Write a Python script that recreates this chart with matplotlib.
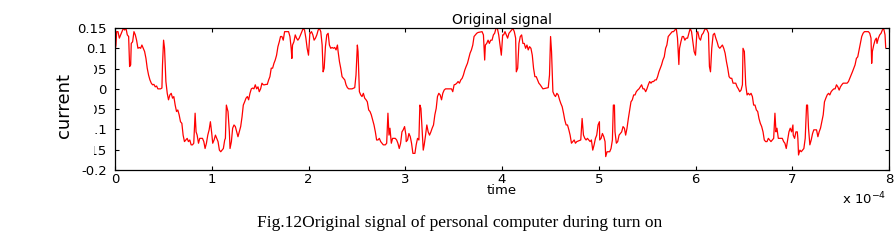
import numpy as np
import matplotlib
matplotlib.use('Agg')
import matplotlib.pyplot as plt
from matplotlib.patches import Rectangle

# time in units of 1e-4 s, current, one list pair per cycle
t_c1 = [0.000, 0.010, 0.017, 0.031, 0.045, 0.058, 0.072, 0.086, 0.100, 0.113, 0.127, 0.141, 0.151, 0.162,
        0.168, 0.182, 0.196, 0.210, 0.223, 0.237, 0.251, 0.265, 0.278, 0.292, 0.306, 0.320, 0.333, 0.347,
        0.361, 0.375, 0.388, 0.402, 0.416, 0.430, 0.443, 0.471, 0.485, 0.491, 0.502, 0.512, 0.519, 0.526,
        0.540, 0.553, 0.567, 0.581, 0.595, 0.608, 0.622, 0.636, 0.649, 0.663, 0.677, 0.691, 0.704, 0.718,
        0.732, 0.746, 0.759, 0.773, 0.787, 0.801, 0.814, 0.828, 0.838, 0.849, 0.863, 0.876, 0.890, 0.904,
        0.918, 0.931, 0.945, 0.959, 0.973, 0.986, 1.000,
        1.010, 1.024, 1.038, 1.052, 1.065, 1.079, 1.093, 1.107, 1.120, 1.134, 1.141, 1.151, 1.168, 1.182,
        1.189, 1.203, 1.216, 1.230, 1.244, 1.258, 1.271, 1.285, 1.299, 1.313, 1.326, 1.340, 1.354, 1.368,
        1.381, 1.395, 1.409, 1.423, 1.436, 1.450, 1.464, 1.478, 1.491, 1.505, 1.519, 1.533, 1.546, 1.560,
        1.574, 1.588, 1.601, 1.615, 1.629, 1.643, 1.656, 1.670, 1.684, 1.698, 1.711, 1.725, 1.739, 1.753,
        1.766, 1.794, 1.808, 1.821, 1.828, 1.835, 1.849, 1.863, 1.876, 1.890, 1.904, 1.918, 1.931, 1.945,
        1.959, 1.973, 1.986, 2.000, 2.014]
i_c1 = [0.092, 0.108, 0.141, 0.141, 0.125, 0.133, 0.141, 0.149, 0.145, 0.150, 0.133, 0.129, 0.055, 0.059,
        0.112, 0.116, 0.141, 0.133, 0.120, 0.100, 0.102, 0.100, 0.108, 0.100, 0.092, 0.075, 0.051, 0.034,
        0.022, 0.014, 0.010, 0.011, 0.005, 0.007, 0.000, 0.000, 0.002, 0.059, 0.120, 0.100, 0.059, 0.018,
        -0.011, -0.027, -0.015, -0.011, -0.023, -0.019, -0.040, -0.056, -0.052, -0.064, -0.081, -0.085, -0.114, -0.130,
        -0.126, -0.122, -0.130, -0.126, -0.138, -0.138, -0.134, -0.060, -0.106, -0.114, -0.134, -0.122, -0.122, -0.122,
        -0.130, -0.147, -0.134, -0.114, -0.101, -0.081, -0.110,
        -0.134, -0.126, -0.114, -0.122, -0.130, -0.151, -0.155, -0.151, -0.147, -0.126, -0.122, -0.040, -0.056, -0.106,
        -0.147, -0.130, -0.097, -0.089, -0.093, -0.106, -0.118, -0.106, -0.093, -0.069, -0.040, -0.032, -0.023, -0.019,
        -0.027, -0.011, 0.000, 0.002, 0.000, 0.010, 0.000, 0.005, -0.007, 0.000, 0.014, 0.010, 0.010, 0.011,
        0.011, 0.022, 0.030, 0.051, 0.051, 0.063, 0.071, 0.083, 0.104, 0.116, 0.129, 0.129, 0.120, 0.141,
        0.141, 0.141, 0.129, 0.100, 0.075, 0.108, 0.116, 0.133, 0.125, 0.120, 0.125, 0.133, 0.141, 0.149,
        0.145, 0.125, 0.100, 0.083, 0.137]

t_c2 = [2.017, 2.031, 2.045, 2.058, 2.072, 2.086, 2.100, 2.113, 2.127, 2.141, 2.151, 2.162, 2.175, 2.189,
        2.203, 2.216, 2.230, 2.244, 2.258, 2.271, 2.285, 2.299, 2.306, 2.320, 2.333, 2.347, 2.361, 2.375,
        2.388, 2.402, 2.416, 2.450, 2.478, 2.491, 2.505, 2.512, 2.526, 2.540, 2.553, 2.567, 2.581, 2.595,
        2.608, 2.622, 2.636, 2.649, 2.663, 2.677, 2.691, 2.704, 2.718, 2.732, 2.746, 2.759, 2.773, 2.794,
        2.808, 2.821, 2.832, 2.842, 2.856, 2.869, 2.883, 2.897, 2.911, 2.924, 2.938, 2.952, 2.966, 2.979,
        2.993, 3.007,
        3.010, 3.024, 3.038, 3.052, 3.065, 3.079, 3.100, 3.113, 3.127, 3.141, 3.151, 3.162, 3.175, 3.186,
        3.196, 3.210, 3.223, 3.237, 3.251, 3.265, 3.278, 3.292, 3.306, 3.320, 3.333, 3.347, 3.361, 3.375,
        3.388, 3.402, 3.416, 3.478, 3.491, 3.505, 3.519, 3.533, 3.546, 3.560, 3.574, 3.588, 3.601, 3.615,
        3.629, 3.643, 3.656, 3.670, 3.684, 3.698, 3.711, 3.725, 3.739, 3.753, 3.794, 3.808, 3.821, 3.828,
        3.842, 3.856, 3.869, 3.883, 3.897, 3.911, 3.924, 3.938, 3.952, 3.966, 3.979, 3.993, 4.007]
i_c2 = [0.137, 0.141, 0.133, 0.120, 0.125, 0.133, 0.145, 0.149, 0.141, 0.108, 0.042, 0.051, 0.104, 0.133,
        0.137, 0.108, 0.100, 0.102, 0.100, 0.102, 0.096, 0.108, 0.092, 0.067, 0.051, 0.030, 0.026, 0.022,
        0.010, 0.003, 0.000, 0.000, 0.003, 0.034, 0.108, 0.092, -0.007, -0.015, -0.019, -0.011, -0.023, -0.027,
        -0.032, -0.052, -0.056, -0.064, -0.077, -0.089, -0.106, -0.126, -0.126, -0.122, -0.130, -0.134, -0.138, -0.138,
        -0.134, -0.060, -0.114, -0.097, -0.134, -0.122, -0.122, -0.122, -0.126, -0.134, -0.147, -0.134, -0.106, -0.101,
        -0.093, -0.114,
        -0.130, -0.126, -0.110, -0.118, -0.134, -0.159, -0.159, -0.138, -0.122, -0.126, -0.040, -0.048, -0.106, -0.151,
        -0.138, -0.114, -0.089, -0.106, -0.114, -0.106, -0.097, -0.089, -0.064, -0.048, -0.019, -0.011, -0.015, -0.027,
        -0.011, -0.003, 0.000, 0.000, -0.007, 0.010, 0.011, 0.014, 0.018, 0.014, 0.022, 0.026, 0.034, 0.046,
        0.055, 0.063, 0.075, 0.088, 0.096, 0.108, 0.129, 0.133, 0.137, 0.139, 0.141, 0.133, 0.071, 0.108,
        0.112, 0.120, 0.112, 0.120, 0.120, 0.133, 0.137, 0.149, 0.149, 0.133, 0.108, 0.083, 0.133]

t_c3 = [4.017, 4.031, 4.045, 4.058, 4.072, 4.086, 4.100, 4.113, 4.127, 4.141, 4.148, 4.162, 4.175, 4.189,
        4.203, 4.216, 4.230, 4.244, 4.258, 4.271, 4.285, 4.299, 4.313, 4.326, 4.340, 4.354, 4.368, 4.381,
        4.395, 4.409, 4.423, 4.478, 4.491, 4.502, 4.512, 4.526, 4.540, 4.553, 4.567, 4.581, 4.595, 4.608,
        4.622, 4.636, 4.649, 4.663, 4.677, 4.691, 4.704, 4.718, 4.732, 4.746, 4.759, 4.773, 4.814, 4.828,
        4.842, 4.856, 4.869, 4.883, 4.897, 4.911, 4.924, 4.938, 4.952, 4.966, 4.979, 4.993, 5.007,
        5.010, 5.024, 5.038, 5.052, 5.065, 5.072, 5.086, 5.113, 5.127, 5.141, 5.151, 5.162, 5.168, 5.182,
        5.196, 5.210, 5.223, 5.237, 5.251, 5.265, 5.278, 5.292, 5.306, 5.320, 5.333, 5.347, 5.361, 5.375,
        5.388, 5.402, 5.416, 5.430, 5.443, 5.457, 5.471, 5.485, 5.498, 5.512, 5.526, 5.540, 5.553, 5.567,
        5.581, 5.595, 5.608, 5.622, 5.636, 5.649, 5.663, 5.677, 5.691, 5.704, 5.718, 5.732, 5.746, 5.759,
        5.773, 5.787, 5.801, 5.814, 5.828, 5.835, 5.849, 5.863, 5.876, 5.890, 5.904, 5.918, 5.931, 5.945,
        5.959, 5.973, 5.986, 6.000, 6.014]
i_c3 = [0.133, 0.141, 0.133, 0.125, 0.137, 0.141, 0.145, 0.149, 0.141, 0.125, 0.042, 0.051, 0.112, 0.129,
        0.133, 0.112, 0.112, 0.100, 0.108, 0.096, 0.104, 0.100, 0.083, 0.051, 0.030, 0.030, 0.022, 0.014,
        0.010, 0.005, 0.000, 0.003, 0.034, 0.129, 0.092, -0.007, -0.015, -0.019, -0.011, -0.015, -0.027, -0.036,
        -0.044, -0.060, -0.077, -0.089, -0.089, -0.101, -0.114, -0.134, -0.130, -0.126, -0.134, -0.130, -0.126, -0.073,
        -0.114, -0.122, -0.126, -0.122, -0.126, -0.130, -0.126, -0.151, -0.138, -0.122, -0.114, -0.089, -0.081,
        -0.126, -0.122, -0.110, -0.118, -0.130, -0.167, -0.155, -0.155, -0.147, -0.126, -0.040, -0.040, -0.106, -0.134,
        -0.130, -0.114, -0.110, -0.106, -0.093, -0.097, -0.114, -0.097, -0.073, -0.052, -0.032, -0.027, -0.015, -0.015,
        -0.007, -0.003, 0.000, 0.005, 0.010, 0.000, 0.000, -0.007, 0.000, 0.010, 0.018, 0.014, 0.018, 0.018,
        0.022, 0.022, 0.030, 0.042, 0.051, 0.059, 0.071, 0.079, 0.100, 0.108, 0.129, 0.133, 0.137, 0.141,
        0.141, 0.145, 0.149, 0.125, 0.060, 0.100, 0.116, 0.129, 0.129, 0.120, 0.125, 0.125, 0.137, 0.149,
        0.141, 0.116, 0.092, 0.083, 0.137]

t_c4 = [6.024, 6.038, 6.052, 6.065, 6.079, 6.093, 6.107, 6.120, 6.134, 6.144, 6.155, 6.168, 6.182, 6.196,
        6.210, 6.223, 6.237, 6.251, 6.265, 6.278, 6.292, 6.306, 6.320, 6.333, 6.347, 6.361, 6.375, 6.388,
        6.416, 6.430, 6.443, 6.457, 6.471, 6.485, 6.491, 6.505, 6.519, 6.533, 6.546, 6.560, 6.574, 6.588,
        6.601, 6.615, 6.629, 6.643, 6.656, 6.670, 6.684, 6.698, 6.711, 6.725, 6.739, 6.753, 6.766, 6.780,
        6.794, 6.808, 6.821, 6.832, 6.842, 6.856, 6.897, 6.911, 6.924, 6.938, 6.952, 6.966, 6.979, 6.993,
        7.007,
        7.010, 7.024, 7.038, 7.052, 7.058, 7.065, 7.079, 7.093, 7.107, 7.120, 7.134, 7.148, 7.158, 7.168,
        7.182, 7.196, 7.210, 7.223, 7.251, 7.265, 7.278, 7.292, 7.306, 7.320, 7.333, 7.347, 7.361, 7.375,
        7.388, 7.402, 7.416, 7.430, 7.443, 7.457, 7.471, 7.485, 7.498, 7.512, 7.526, 7.567, 7.581, 7.595,
        7.608, 7.622, 7.636, 7.649, 7.663, 7.677, 7.691, 7.704, 7.718, 7.732, 7.746, 7.787, 7.801, 7.814,
        7.821, 7.828, 7.842, 7.856, 7.869, 7.876, 7.890, 7.904, 7.918, 7.931, 7.945, 7.959, 7.966]
i_c4 = [0.141, 0.125, 0.120, 0.133, 0.137, 0.145, 0.149, 0.145, 0.137, 0.055, 0.042, 0.100, 0.133, 0.137,
        0.125, 0.116, 0.104, 0.100, 0.104, 0.108, 0.100, 0.088, 0.067, 0.051, 0.030, 0.026, 0.026, 0.014,
        0.014, 0.005, 0.000, -0.007, -0.003, 0.010, 0.100, 0.092, 0.010, -0.015, -0.011, -0.015, -0.011, -0.019,
        -0.040, -0.040, -0.052, -0.056, -0.073, -0.085, -0.093, -0.106, -0.126, -0.130, -0.130, -0.122, -0.126, -0.130,
        -0.126, -0.122, -0.060, -0.106, -0.097, -0.122, -0.122, -0.130, -0.134, -0.147, -0.126, -0.106, -0.097, -0.106,
        -0.089,
        -0.114, -0.122, -0.106, -0.106, -0.122, -0.163, -0.151, -0.155, -0.151, -0.147, -0.122, -0.040, -0.040, -0.097,
        -0.138, -0.126, -0.110, -0.101, -0.101, -0.118, -0.106, -0.097, -0.081, -0.064, -0.032, -0.023, -0.015, -0.011,
        -0.015, -0.007, -0.003, 0.000, 0.000, 0.010, 0.005, -0.003, 0.005, 0.010, 0.014, 0.014, 0.018, 0.026,
        0.034, 0.042, 0.051, 0.059, 0.075, 0.079, 0.096, 0.112, 0.129, 0.137, 0.141, 0.141, 0.137, 0.125,
        0.063, 0.092, 0.108, 0.120, 0.125, 0.112, 0.125, 0.133, 0.137, 0.145, 0.149, 0.133, 0.102]

t = np.array(t_c1 + t_c2 + t_c3 + t_c4)
i = np.array(i_c1 + i_c2 + i_c3 + i_c4)

x_ticks = [0, 1, 2, 3, 4, 5, 6, 7, 8]
y_ticks = [-0.2, -0.15, -0.1, -0.05, 0, 0.05, 0.1, 0.15]
y_labels = ['-0.2', '-0.15', '-0.1', '-0.05', '0', '0.05', '0.1', '0.15']

W, H = 896, 242
fig = plt.figure(figsize=(W/100, H/100), dpi=100)
ax = fig.add_axes([115/W, 1-170/H, (889-115)/W, (170-28)/H])

ax.plot(t, i, '-', color='#ff0000', lw=0.9)
ax.set_xlim([0, 8])
ax.set_ylim([-0.2, 0.15])
ax.set_xticks(x_ticks)
ax.set_yticks(y_ticks)
ax.set_yticklabels(y_labels)
ax.tick_params(axis='both', direction='in', length=3, width=0.8, labelsize=9.5,
               top=True, right=True)
ax.tick_params(axis='y', pad=6)
ax.tick_params(axis='x', pad=2)
for s in ax.spines.values():
    s.set_linewidth(0.9)

ax.set_title('Original signal', fontsize=10, pad=3)
ax.set_xlabel('time', fontsize=9.5, labelpad=-1)

# white patch over the clipped tick labels, as in the scan
fig.add_artist(Rectangle((60/W, 1-158/H), 34/W, 100/H, transform=fig.transFigure,
                         facecolor='white', edgecolor='none', zorder=2))
fig.text(64/W, 1-106/H, 'current', rotation=90, fontsize=13, ha='center', va='center', zorder=3)

fig.text(886/W, 1-199/H, r'x 10$^{-4}$', fontsize=9.5, ha='right', va='center')
fig.text(460/W, 1-223/H, 'Fig.12Original signal of personal computer during turn on',
         fontsize=12.5, family='Liberation Serif', ha='center', va='center')

fig.savefig('out.png', dpi=100)
